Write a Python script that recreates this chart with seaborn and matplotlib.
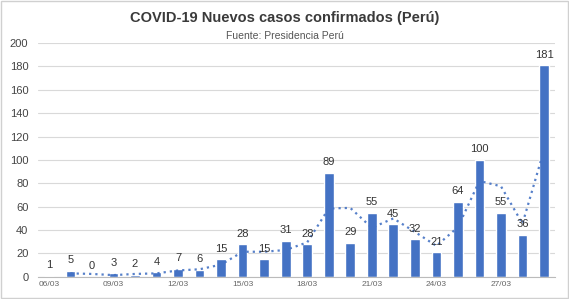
import numpy as np
import pandas as pd
import matplotlib
matplotlib.use("Agg")
import matplotlib.pyplot as plt
import seaborn as sns

# datos
fechas = ["06/03", "07/03", "08/03", "09/03", "10/03", "11/03", "12/03", "13/03",
          "14/03", "15/03", "16/03", "17/03", "18/03", "19/03", "20/03", "21/03",
          "22/03", "23/03", "24/03", "25/03", "26/03", "27/03", "28/03", "29/03"]
casos = [1, 5, 0, 3, 2, 4, 7, 6, 15, 28, 15, 31, 28, 89, 29, 55, 45, 32, 21, 64, 100, 55, 36, 181]
# linea de tendencia (media movil de 2 periodos)
tendencia = [np.nan, 3, 2.5, 1.5, 2.5, 3, 5.5, 6.5, 10.5, 21.5, 21.5, 23, 29.5, 58.5,
             59, 42, 50, 38.5, 26.5, 42.5, 82, 77.5, 45.5, 108.5]

df = pd.DataFrame({"fecha": fechas, "casos": casos})

sns.set_style("white")
plt.rcParams['font.family'] = ['Liberation Sans', 'DejaVu Sans']

azul = "#4472c4"

fig = plt.figure(figsize=(5.69, 2.99), dpi=100)
fig.patches.append(plt.Rectangle((0.002, 0.003), 0.996, 0.994, transform=fig.transFigure,
                                 fill=False, edgecolor="#d0d0d0", linewidth=1))
ax = fig.add_axes([0.067, 0.074, 0.908, 0.782])

sns.barplot(data=df, x="fecha", y="casos", color=azul, width=0.45, saturation=1, ax=ax)
sns.lineplot(x=np.arange(len(tendencia)), y=tendencia, ax=ax, color=azul,
             linestyle=(0, (1, 1.8)), linewidth=1.6, alpha=0.9)

# Numeros arriba de cada barra
ax.bar_label(ax.containers[0], fontsize=8, padding=4, color="#333333")

ax.set_ylim(0, 200)
ax.set_xlim(-0.5, len(fechas) - 0.5)
ax.set_yticks(range(0, 201, 20))
ax.tick_params(axis="y", labelsize=8, labelcolor="#444444", length=0, pad=7)
ax.set_xticks(range(0, len(fechas), 3))
ax.set_xticklabels(fechas[::3], fontsize=6, color="#666666")
ax.tick_params(axis="x", length=0, pad=3)
# marcas chicas entre barras
ax.set_xticks(np.arange(-0.5, len(fechas), 1), minor=True)
ax.tick_params(axis="x", which="minor", length=3, color="#bbbbbb", direction="out")

ax.grid(axis="y", color="#d9d9d9", linewidth=0.8)
ax.set_axisbelow(True)
for s in ["top", "right", "left"]:
    ax.spines[s].set_visible(False)
ax.spines["bottom"].set_color("#bbbbbb")
ax.set_xlabel("")
ax.set_ylabel("")

fig.text(0.5, 0.94, "COVID-19 Nuevos casos confirmados (Perú)", ha="center", va="center",
         fontsize=10.5, fontweight="bold", color="#3a3a3a")
fig.text(0.5, 0.88, "Fuente: Presidencia Perú", ha="center", va="center",
         fontsize=7.5, color="#555555")

fig.savefig("out.png", dpi=100)
